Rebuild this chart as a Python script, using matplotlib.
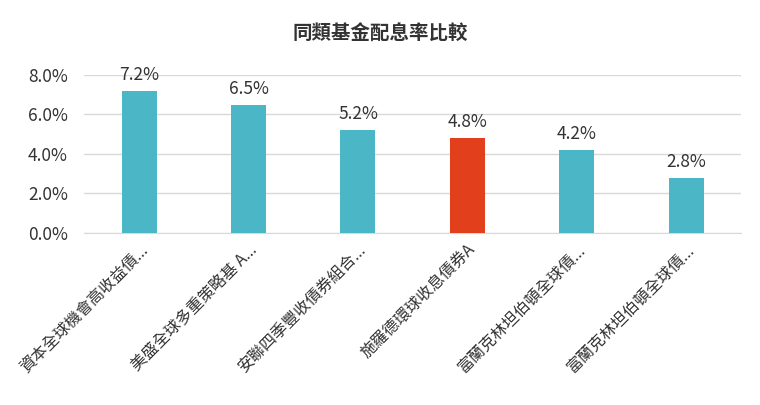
import matplotlib
matplotlib.use("Agg")
import matplotlib.pyplot as plt
from matplotlib.ticker import FuncFormatter

plt.rcParams["font.family"] = ["Noto Sans CJK TC", "DejaVu Sans"]

categories = ["資本全球機會高收益債...", "美盛全球多重策略基 A...", "安聯四季豐收債券組合...",
              "施羅德環球收息債券A", "富蘭克林坦伯頓全球債...", "富蘭克林坦伯頓全球債..."]
values = [7.2, 6.5, 5.2, 4.8, 4.2, 2.8]
colors = ["#4BB7C6", "#4BB7C6", "#4BB7C6", "#E2401C", "#4BB7C6", "#4BB7C6"]
yticks = [0, 2, 4, 6, 8]

fig = plt.figure(figsize=(7.6, 4.05), dpi=100)
ax = fig.add_axes([0.111, 0.425, 0.864, 0.39])
x = range(len(categories))
ax.bar(x, values, width=0.32, color=colors, zorder=3)
for i, v in zip(x, values):
    ax.text(i, v + 0.35, f"{v:.1f}%", ha="center", va="bottom", fontsize=12.5, color="#333333")
ax.set_ylim(0, 8)
ax.set_xlim(-0.5, len(categories) - 0.5)
ax.set_yticks(yticks)
ax.yaxis.set_major_formatter(FuncFormatter(lambda v, p: f"{v:.1f}%"))
ax.grid(axis="y", color="#D9D9D9", linewidth=1, zorder=0)
for s in ["top", "right", "left"]:
    ax.spines[s].set_visible(False)
ax.spines["bottom"].set_color("#D9D9D9")
ax.tick_params(axis="y", length=0, labelsize=12.5, colors="#333333", pad=12)
ax.tick_params(axis="x", length=0, pad=6)
ax.set_xticks(list(x))
ax.set_xticklabels(categories, rotation=45, ha="right", rotation_mode="anchor",
                   fontsize=11.5, color="#333333")
fig.text(0.5, 0.915, "同類基金配息率比較", ha="center", va="center", fontsize=14,
         fontweight="bold", color="#333333")
fig.savefig("out.png", dpi=100)
